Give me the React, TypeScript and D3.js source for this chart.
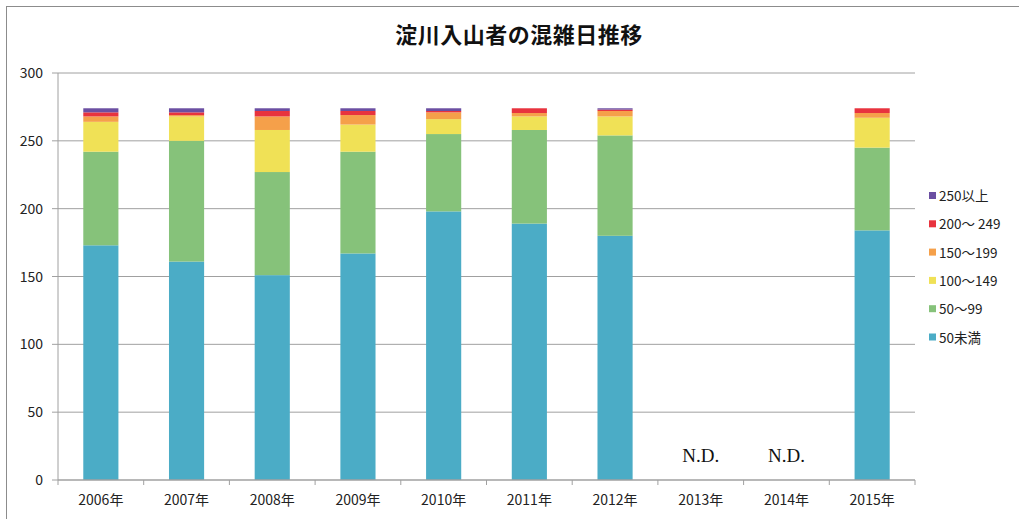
import React from "react";
import * as d3 from "d3";

const years = ["2006年", "2007年", "2008年", "2009年", "2010年", "2011年", "2012年", "2013年", "2014年", "2015年"];
const seriesNames = ["50未満", "50〜99", "100〜149", "150〜199", "200〜 249", "250以上"];
const seriesColors = ["#4BACC6", "#86C27A", "#F0E156", "#F5A04A", "#E8333E", "#6B4FA2"];
const under50 = [173, 161, 151, 167, 198, 189, 180, 0, 0, 184];
const s50to99 = [69, 89, 76, 75, 57, 69, 74, 0, 0, 61];
const s100to149 = [22, 18, 31, 20, 11, 10, 14, 0, 0, 22];
const s150to199 = [4, 1, 10, 7, 5, 2.5, 4, 0, 0, 3.5];
const s200to249 = [3, 2, 4, 3, 1, 3.5, 1, 0, 0, 3.5];
const over250 = [3, 3, 2, 2, 2, 0, 1, 0, 0, 0];
const yTicks = [0, 50, 100, 150, 200, 250, 300];
const ndYears = ["2013年", "2014年"];
const title = "淀川入山者の混雑日推移";

export default function App() {
  const W = 1019, H = 519;
  const left = 58, right = 915, top = 73, bottom = 480;
  const series = [under50, s50to99, s100to149, s150to199, s200to249, over250];
  const x = d3.scaleBand<string>().domain(years).range([left, right]).paddingInner(0.59).paddingOuter(0.295);
  const xb = d3.scaleBand<string>().domain(years).range([left, right]);
  const y = d3.scaleLinear().domain([0, 300]).range([bottom, top]);
  const rows = years.map((yr, i) => {
    const r: any = { year: yr };
    seriesNames.forEach((n, k) => (r[n] = series[k][i]));
    return r;
  });
  const stacked = d3.stack<any>().keys(seriesNames)(rows);
  const jp = "'Noto Sans CJK JP', 'Noto Sans', sans-serif";
  return (
    <svg width={W} height={H} style={{ position: "absolute", left: 0, top: 0 }}>
      <rect x={0} y={0} width={W} height={H} fill="#fff" />
      <rect x={6.5} y={6.5} width={1040} height={530} fill="none" stroke="#8c8c8c" strokeWidth={1} />
      <text x={519} y={43} textAnchor="middle" fontFamily={jp} fontWeight="bold" fontSize={22} fill="#111" letterSpacing={0.5}>{title}</text>
      {yTicks.map((t) => (
        <g key={t}>
          {t > 0 && <line x1={left} x2={right} y1={y(t)} y2={y(t)} stroke="#a0a0a0" strokeWidth={1} />}
          <line x1={left - 6} x2={left} y1={y(t)} y2={y(t)} stroke="#a0a0a0" />
          <text x={left - 15} y={y(t) + 5} textAnchor="end" fontFamily={jp} fontSize={14} fill="#222">{t}</text>
        </g>
      ))}
      <line x1={left} x2={left} y1={top} y2={bottom} stroke="#a0a0a0" />
      {stacked.map((s, k) => (
        <g key={k} fill={seriesColors[k]}>
          {s.map((d, i) => {
            const h = y(d[0]) - y(d[1]);
            if (h <= 0) return null;
            return <rect key={i} x={x(years[i])} y={y(d[1])} width={x.bandwidth()} height={h} />;
          })}
        </g>
      ))}
      <line x1={left} x2={right} y1={bottom} y2={bottom} stroke="#a0a0a0" strokeWidth={1.5} />
      {years.concat(["end"]).map((yr, i) => {
        const xx = left + i * xb.bandwidth();
        return <line key={i} x1={xx} x2={xx} y1={bottom} y2={bottom + 5} stroke="#a0a0a0" />;
      })}
      {years.map((yr) => (
        <text key={yr} x={(xb(yr) as number) + xb.bandwidth() / 2} y={505} textAnchor="middle" fontFamily={jp} fontSize={14} fill="#222">{yr}</text>
      ))}
      {ndYears.map((yr) => (
        <text key={yr} x={(xb(yr) as number) + xb.bandwidth() / 2} y={462} textAnchor="middle" fontFamily="'Liberation Serif', serif" fontSize={19} fill="#111">N.D.</text>
      ))}
      {seriesNames.slice().reverse().map((n, j) => {
        const k = seriesNames.length - 1 - j;
        const yy = 196 + j * 28.3;
        return (
          <g key={n}>
            <rect x={929} y={yy - 4} width={7} height={7} fill={seriesColors[k]} />
            <text x={939} y={yy + 5} fontFamily={jp} fontSize={13.5} fill="#222">{n}</text>
          </g>
        );
      })}
    </svg>
  );
}
